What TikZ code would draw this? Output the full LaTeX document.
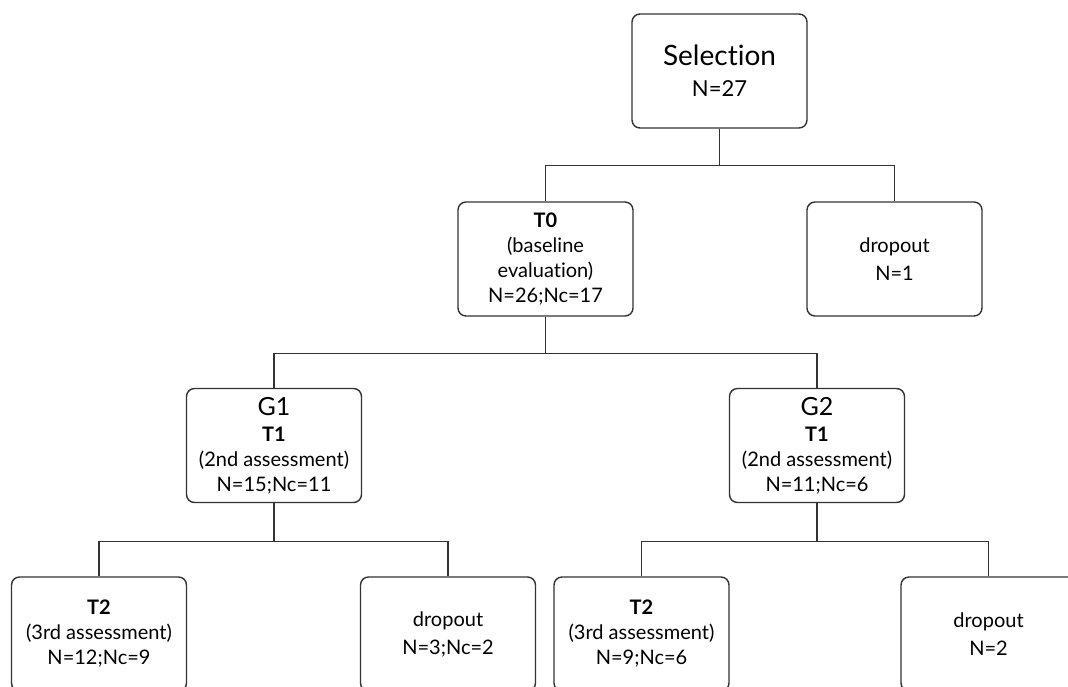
\documentclass[tikz,border=0pt]{standalone}
\usepackage{fontspec}
\setmainfont{Lato}[Ligatures=NoCommon]
\usetikzlibrary{positioning}
\begin{document}
\begin{tikzpicture}[
    x=1pt, y=-1pt,
    box/.style={draw=black!80, fill=white, rounded corners=8pt, align=center, line width=1.4pt, minimum width=175pt, minimum height=114pt, inner sep=2pt, font=\fontsize{20}{25}\selectfont},
    conn/.style={draw=black!80, line width=1.4pt}
]
\useasboundingbox (0,0) rectangle (1068,686);
\clip (0,0) rectangle (1068,686);

% Top
\node[box] (sel) at (719.5,71) {{\fontsize{28}{28}\selectfont Selection}\\[6pt]{\fontsize{22}{25}\selectfont N=27}};

% Baseline level
\node[box] (t0) at (545.5,259) {{\bfseries T0}\\(baseline\\evaluation)\\N=26;Nc=17};
\node[box] (drop0) at (894.5,259) {dropout\\[3pt]N=1};

% Groups
\node[box] (g1) at (274,445.5) {{\fontsize{25}{25}\selectfont G1}\\[1pt]{\bfseries T1}\\(2nd assessment)\\N=15;Nc=11};
\node[box] (g2) at (817,445.5) {{\fontsize{25}{25}\selectfont G2}\\[1pt]{\bfseries T1}\\(2nd assessment)\\N=11;Nc=6};

% Bottom row
\node[box] (t2a) at (99,634) {{\bfseries T2}\\(3rd assessment)\\N=12;Nc=9};
\node[box] (drop1) at (448,634) {dropout\\[3pt]N=3;Nc=2};
\node[box] (t2b) at (641.5,634) {{\bfseries T2}\\(3rd assessment)\\N=9;Nc=6};
\node[box] (drop2) at (988.5,634) {dropout\\[3pt]N=2};

% Connectors
\draw[conn] (sel.south) -- ++(0,37) -| (t0.north);
\draw[conn] (sel.south) -- ++(0,37) -| (drop0.north);
\draw[conn] (t0.south) -- ++(0,37) -| (g1.north);
\draw[conn] (t0.south) -- ++(0,37) -| (g2.north);
\draw[conn] (g1.south) -- ++(0,38) -| (t2a.north);
\draw[conn] (g1.south) -- ++(0,38) -| (drop1.north);
\draw[conn] (g2.south) -- ++(0,38) -| (t2b.north);
\draw[conn] (g2.south) -- ++(0,38) -| (drop2.north);

\end{tikzpicture}
\end{document}
